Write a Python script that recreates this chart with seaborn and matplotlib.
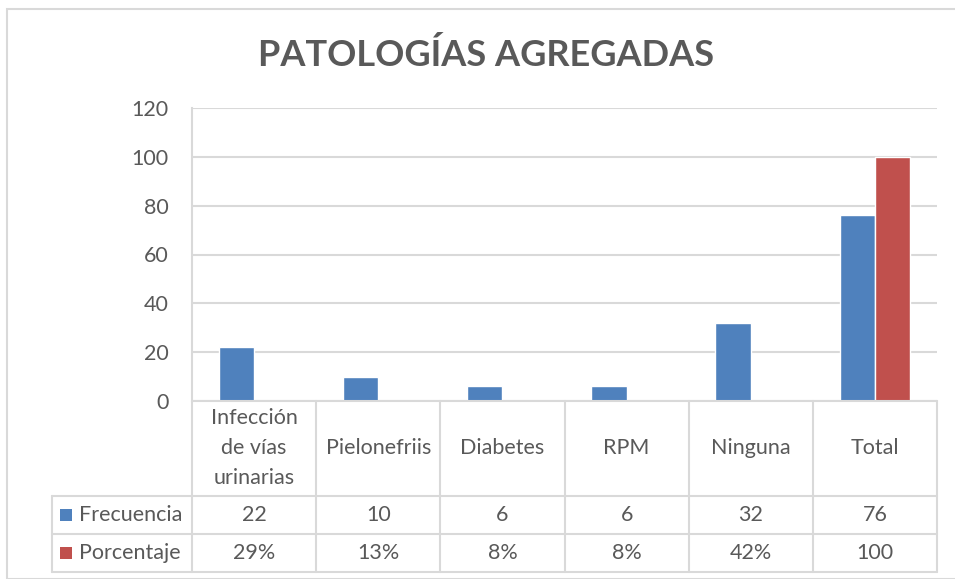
import pandas as pd
import numpy as np
import matplotlib
matplotlib.use("Agg")
import matplotlib.pyplot as plt
from matplotlib.lines import Line2D
from matplotlib.patches import Rectangle
from matplotlib.transforms import blended_transform_factory
import seaborn as sns

# Data
categorias = ["Infección\nde vías\nurinarias", "Pielonefriis", "Diabetes", "RPM", "Ninguna", "Total"]
frecuencia = [22, 10, 6, 6, 32, 76]
porcentaje = [0.29, 0.13, 0.08, 0.08, 0.42, 100]
porcentaje_txt = ["29%", "13%", "8%", "8%", "42%", "100"]
frecuencia_txt = ["22", "10", "6", "6", "32", "76"]
series = ["Frecuencia", "Porcentaje"]
y_ticks = [0, 20, 40, 60, 80, 100, 120]

BLUE = "#4F81BD"
RED = "#C0504D"
TXT = "#595959"
GRID = "#D9D9D9"
FS = 15.5

sns.set_style("white")
plt.rcParams["font.family"] = ["Lato", "DejaVu Sans"]

df = pd.DataFrame({
    "Categoria": categorias * 2,
    "Valor": frecuencia + porcentaje,
    "Serie": [series[0]] * 6 + [series[1]] * 6,
})

W, H = 955, 579
fig = plt.figure(figsize=(W / 100, H / 100), dpi=100)

# outer chart border
fig.add_artist(Rectangle((7 / W, 0), 1.2, (H - 9) / H, transform=fig.transFigure,
                         fill=False, edgecolor=GRID, lw=1.5))

left, right, top, bottom = 192, 937, 108, 401
ax = fig.add_axes([left / W, 1 - bottom / H, (right - left) / W, (bottom - top) / H])

sns.barplot(data=df, x="Categoria", y="Valor", hue="Serie", palette=[BLUE, RED],
            width=0.57, saturation=1, legend=False, ax=ax)

ax.set_ylim(0, 120)
ax.set_xlim(-0.5, 5.5)
ax.set_yticks(y_ticks)
ax.set_yticklabels([str(t) for t in y_ticks], fontsize=FS, color=TXT)
ax.tick_params(axis="y", length=0, pad=17)
ax.tick_params(axis="x", length=0, labelbottom=False)
ax.set_xlabel("")
ax.set_ylabel("")
ax.yaxis.grid(True, color=GRID, lw=1.5)
ax.set_axisbelow(True)
for s in ["top", "right", "bottom"]:
    ax.spines[s].set_visible(False)
ax.spines["left"].set_color(GRID)
ax.spines["left"].set_linewidth(1.5)

fig.text(486 / W, 1 - 55 / H, "PATOLOGÍAS AGREGADAS",
         ha="center", va="center", fontsize=26, fontweight="bold", color=TXT)

# data table under the plot
tr = blended_transform_factory(ax.transData, fig.transFigure)
def fy(py):
    return 1 - py / H

row_y = [401, 496, 534, 572]
for y in row_y:
    if y == 401:
        fig.add_artist(Line2D([-0.5, 5.5], [fy(y)] * 2, transform=tr, color=GRID, lw=1.5))
    else:
        fig.add_artist(Line2D([52 / W, right / W], [fy(y)] * 2, transform=fig.transFigure,
                              color=GRID, lw=1.5))
for i in range(7):
    fig.add_artist(Line2D([i - 0.5] * 2, [fy(401), fy(572)], transform=tr, color=GRID, lw=1.5))
fig.add_artist(Line2D([52 / W] * 2, [fy(496), fy(572)], transform=fig.transFigure,
                      color=GRID, lw=1.5))

for i, cat in enumerate(categorias):
    fig.text(i, fy(448), cat, transform=tr, ha="center", va="center", fontsize=FS,
             color=TXT, linespacing=1.6)
    fig.text(i, fy(515), frecuencia_txt[i], transform=tr, ha="center", va="center",
             fontsize=FS, color=TXT)
    fig.text(i, fy(553), porcentaje_txt[i], transform=tr, ha="center", va="center",
             fontsize=FS, color=TXT)

for name, col, yc in [(series[0], BLUE, 515), (series[1], RED, 553)]:
    fig.add_artist(Rectangle((60 / W, fy(yc + 6)), 12 / W, 12 / H, transform=fig.transFigure,
                             facecolor=col, edgecolor="none"))
    fig.text(79 / W, fy(yc), name, ha="left", va="center", fontsize=FS, color=TXT)

fig.savefig("out.png", dpi=100)
